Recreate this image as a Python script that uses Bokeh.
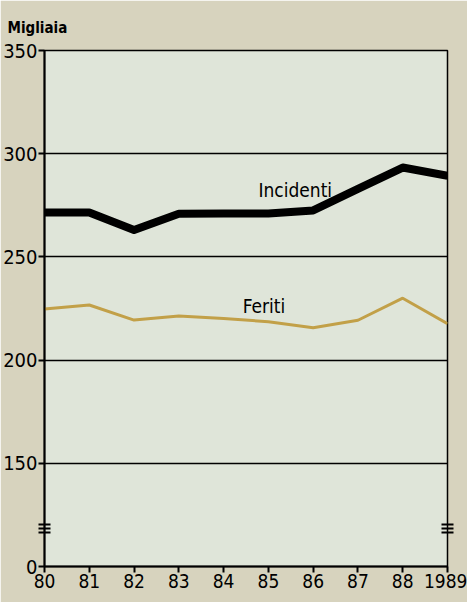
from bokeh.plotting import figure
from bokeh.models import Range1d, FixedTicker, LinearAxis
from bokeh.models import Label
from bokeh.embed import file_html
from bokeh.resources import INLINE

years = [80, 81, 82, 83, 84, 85, 86, 87, 88, 89]
year_labels = ["80", "81", "82", "83", "84", "85", "86", "87", "88", "1989"]
incidenti = [271.5, 271.5, 263.0, 270.9, 271.0, 271.0, 272.5, 283.0, 293.3, 289.3]
feriti = [224.8, 226.7, 219.4, 221.4, 220.2, 218.6, 215.7, 219.3, 230.0, 217.6]
y_ticks = [100, 150, 200, 250, 300, 350]
y_tick_labels = ["0", "150", "200", "250", "300", "350"]
break_ticks = [116.5, 118.5, 120.5]

FONT = "'DejaVu Sans Condensed', Roboto, sans-serif"
BG = "#d7d3be"
PLOT_BG = "#dfe5d9"

p = figure(width=467, height=602, output_backend="svg", toolbar_location=None,
           x_range=Range1d(years[0], years[-1]), y_range=Range1d(y_ticks[0], y_ticks[-1]),
           min_border_left=44, min_border_right=20, min_border_top=50, min_border_bottom=36)
p.background_fill_color = PLOT_BG
p.border_fill_color = BG
p.outline_line_color = "black"
p.outline_line_width = 1.5

p.title.text = "Migliaia"
p.title.text_font = FONT
p.title.text_font_size = "15px"
p.title.text_font_style = "bold"
p.title.text_color = "black"
p.title.align = "left"
p.title.offset = -37
p.title.standoff = 24
p.title.vertical_align = "top"

for ax in (p.xaxis[0], p.yaxis[0]):
    ax.axis_line_color = "black"
    ax.axis_line_width = 2
    ax.major_tick_line_color = "black"
    ax.major_tick_line_width = 2
    ax.major_tick_in = 0
    ax.major_tick_out = 6
    ax.minor_tick_line_color = None
    ax.major_label_text_font = FONT
    ax.major_label_text_color = "black"
    ax.major_label_standoff = 1
p.xaxis.major_label_text_font_size = "19px"
p.yaxis.major_label_text_font_size = "20px"

p.xaxis.ticker = FixedTicker(ticks=years)
p.xaxis.major_label_overrides = {y: l for y, l in zip(years, year_labels)}

y_ticker = FixedTicker(ticks=y_ticks, minor_ticks=break_ticks)
p.yaxis.ticker = y_ticker
p.yaxis.major_label_overrides = {t: l for t, l in zip(y_ticks, y_tick_labels)}
p.yaxis.minor_tick_line_color = "black"
p.yaxis.minor_tick_line_width = 2
p.yaxis.minor_tick_in = 6
p.yaxis.minor_tick_out = 6

right_axis = LinearAxis(ticker=FixedTicker(ticks=[], minor_ticks=break_ticks), axis_line_color=None,
                        major_tick_line_color=None, minor_tick_line_color="black",
                        minor_tick_line_width=2, minor_tick_in=6, minor_tick_out=6,
                        major_label_text_color=None, major_label_standoff=0)
p.add_layout(right_axis, "right")

p.xgrid.grid_line_color = None
p.ygrid.ticker = FixedTicker(ticks=y_ticks[1:])
p.ygrid.grid_line_color = "black"
p.ygrid.grid_line_width = 1.5

p.line(years, feriti, line_color="#c2a048", line_width=3)
p.line(years, incidenti, line_color="black", line_width=8, line_join="round")

p.add_layout(Label(x=85.6, y=282.5, text="Incidenti", text_font=FONT, text_font_size="19px",
                   text_align="center", text_baseline="middle", text_color="black"))
p.add_layout(Label(x=84.9, y=226.2, text="Feriti", text_font=FONT, text_font_size="19px",
                   text_align="center", text_baseline="middle", text_color="black"))

open("out.html", "w").write(file_html(p, INLINE))
